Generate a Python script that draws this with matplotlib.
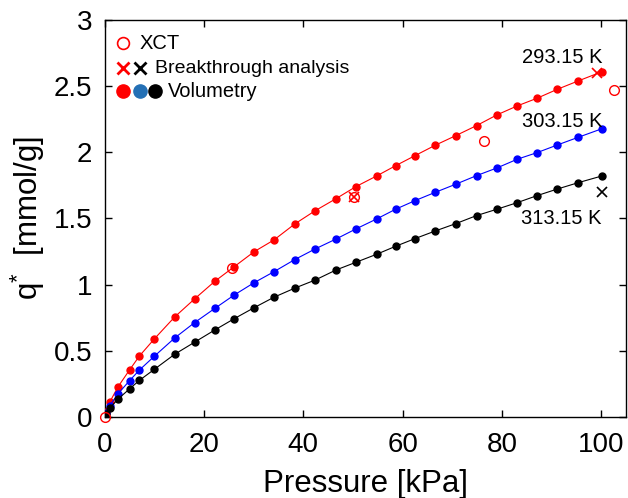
import matplotlib
matplotlib.use("Agg")
import matplotlib.pyplot as plt
from matplotlib.ticker import FuncFormatter, MultipleLocator

plt.rcParams['font.family'] = ['Liberation Sans', 'DejaVu Sans']
plt.rcParams['mathtext.fontset'] = 'custom'
plt.rcParams['mathtext.rm'] = 'Liberation Sans'
plt.rcParams['mathtext.it'] = 'Liberation Sans'

# Volumetry isotherms (pressure in kPa, uptake in mmol/g)
p_vol = [0.3, 1.0, 2.7, 5.0, 7.0, 10.0, 14.1, 18.1, 22.2, 26.1, 30.1, 34.1, 38.3, 42.4,
         46.6, 50.6, 54.8, 58.6, 62.5, 66.6, 70.7, 74.9, 79.0, 83.1, 87.1, 91.2, 95.4, 100.2]
q_293 = [0.04, 0.111, 0.229, 0.355, 0.461, 0.590, 0.756, 0.892, 1.026, 1.136, 1.249, 1.338,
         1.459, 1.559, 1.650, 1.741, 1.822, 1.899, 1.975, 2.054, 2.126, 2.202, 2.283, 2.351,
         2.409, 2.477, 2.540, 2.610]
q_303 = [0.03, 0.085, 0.176, 0.274, 0.355, 0.459, 0.597, 0.713, 0.821, 0.922, 1.015, 1.098,
         1.190, 1.270, 1.345, 1.421, 1.497, 1.570, 1.635, 1.698, 1.759, 1.824, 1.882, 1.948,
         1.998, 2.056, 2.114, 2.179]
q_313 = [0.02, 0.066, 0.136, 0.212, 0.277, 0.360, 0.474, 0.565, 0.658, 0.743, 0.826, 0.905,
         0.974, 1.035, 1.111, 1.169, 1.230, 1.290, 1.348, 1.406, 1.461, 1.522, 1.570, 1.620,
         1.673, 1.723, 1.771, 1.822]

# XCT points
p_xct = [0.0, 25.6, 50.2, 76.3, 102.6]
q_xct = [0.0, 1.126, 1.665, 2.089, 2.472]

# Breakthrough analysis
p_bt_red = [50.2, 99.1]
q_bt_red = [1.665, 2.602]
p_bt_black = [100.2]
q_bt_black = [1.703]

temp_labels = ["293.15 K", "303.15 K", "313.15 K"]
label_pos_p = [92.2, 92.2, 92.0]
label_pos_q = [2.72, 2.232, 1.502]

legend_texts = ["XCT", "Breakthrough analysis", "Volumetry"]

fig = plt.figure(figsize=(6.28, 4.98), dpi=100)
ax = fig.add_axes([0.1667, 0.1627, 0.8301, 0.7971])

lw = 0.8
ms = 5
ax.plot(p_vol, q_293, '-o', color='#ff0000', lw=lw, ms=ms, zorder=3)
ax.plot(p_vol, q_303, '-o', color='#0000ff', lw=lw, ms=ms, zorder=3)
ax.plot(p_vol, q_313, '-o', color='black', lw=lw, ms=ms, zorder=3)

ax.plot(p_xct, q_xct, 'o', mfc='none', mec='#ff0000', mew=1.0, ms=7, ls='none',
        clip_on=False, zorder=4)
ax.plot(p_bt_red, q_bt_red, 'x', color='#ff0000', mew=1.2, ms=6.5, ls='none', zorder=4)
ax.plot(p_bt_black, q_bt_black, 'x', color='black', mew=1.2, ms=6.5, ls='none', zorder=4)

for t, px, qy in zip(temp_labels, label_pos_p, label_pos_q):
    ax.text(px, qy, t, ha='center', va='center', fontsize=14.5)

# Legend drawn manually
tr = ax.transAxes
ax.plot([0.0351], [0.942], 'o', mfc='none', mec='#ff0000', mew=1.2, ms=8.5, transform=tr, clip_on=False)
ax.text(0.0677, 0.942, legend_texts[0], transform=tr, ha='left', va='center', fontsize=14.5)
ax.plot([0.0351], [0.879], 'x', color='#ff0000', mew=2, ms=8, transform=tr, clip_on=False)
ax.plot([0.0677], [0.879], 'x', color='black', mew=2, ms=8, transform=tr, clip_on=False)
ax.text(0.0965, 0.879, legend_texts[1], transform=tr, ha='left', va='center', fontsize=14)
for xf, c in zip([0.0351, 0.0677, 0.0971], ['#ff0000', '#2470b5', 'black']):
    ax.plot([xf], [0.821], 'o', color=c, ms=9.5, transform=tr, clip_on=False)
ax.text(0.1214, 0.821, legend_texts[2], transform=tr, ha='left', va='center', fontsize=14.5)

ax.set_xlim(0, 105)
ax.set_ylim(0, 3)
ax.xaxis.set_major_locator(MultipleLocator(20))
ax.yaxis.set_major_locator(MultipleLocator(0.5))
ax.yaxis.set_major_formatter(FuncFormatter(lambda v, p: f"{v:g}"))
ax.tick_params(direction='in', top=True, right=True, length=5, width=1, labelsize=20)
ax.tick_params(axis='x', pad=11)
ax.tick_params(axis='y', pad=9)
for s in ax.spines.values():
    s.set_linewidth(1.0)

ax.set_xlabel("Pressure [kPa]", fontsize=22.5)
ax.set_ylabel(r"q$^{*}$  [mmol/g]", fontsize=22.5)
ax.xaxis.set_label_coords(0.5, -0.13)
ax.yaxis.set_label_coords(-0.111, 0.5)

fig.savefig("out.png", dpi=100)
